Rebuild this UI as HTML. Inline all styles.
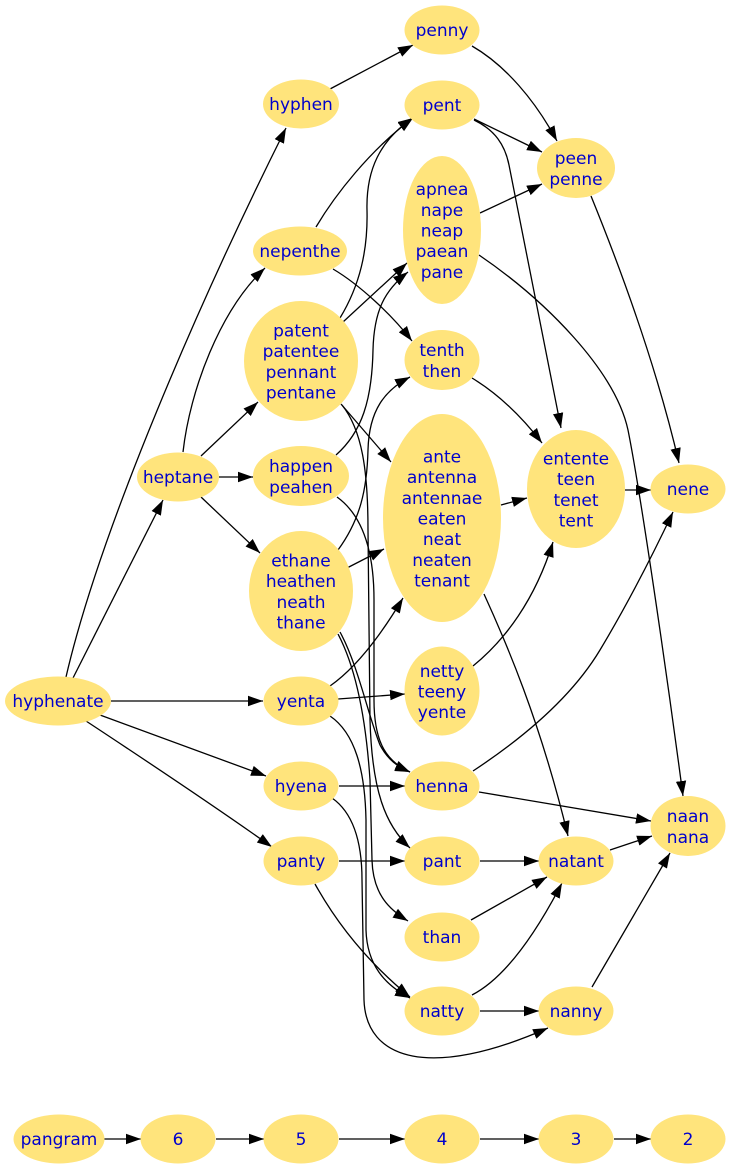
<!DOCTYPE html>
<html><head><meta charset="utf-8"><style>
html,body{margin:0;padding:0;background:#fff;}
svg{display:block;}
text{font-family:"DejaVu Sans","Liberation Sans",sans-serif;font-size:17px;fill:#0000cc;text-anchor:middle;}
.e{fill:none;stroke:#000;stroke-width:1.3;marker-end:url(#ah);}
ellipse{fill:#ffe47c;}
</style></head><body>
<svg width="731" height="1169" viewBox="0 0 731 1169" xmlns="http://www.w3.org/2000/svg">
<defs>
<marker id="ah" markerUnits="userSpaceOnUse" markerWidth="16" markerHeight="11" viewBox="0 0 16 11" refX="15" refY="5.5" orient="auto">
<path d="M0,0.3 L15,5.5 L0,10.7 Z" fill="#000"/>
</marker>
</defs>
<rect width="731" height="1169" fill="#fff"/>

<!-- edges -->
<path class="e" d="M66,677 C100,530 200,300 286,128"/>
<path class="e" d="M73,678 L163,500"/>
<path class="e" d="M111,701 L263,701"/>
<path class="e" d="M100,715 L266,776"/>
<path class="e" d="M86,721 C130,750 220,810 272,847"/>
<path class="e" d="M183,452 C190,390 220,310 265,268"/>
<path class="e" d="M201,456 L258,402"/>
<path class="e" d="M219,477 L253,477"/>
<path class="e" d="M201,497 L260,553"/>
<path class="e" d="M330,89 L413,45"/>
<path class="e" d="M316,227 C335,195 370,150 413,118"/>
<path class="e" d="M333,269 C360,285 392,315 412,341"/>
<path class="e" d="M340,318 C360,285 368,250 367,210 C366,170 380,140 413,118"/>
<path class="e" d="M343,322 L407,263"/>
<path class="e" d="M341,404 L391,462"/>
<path class="e" d="M342,405 C362,430 368,470 368,530 L370,720 C372,790 385,825 410,848"/>
<path class="e" d="M336,455 C362,432 372,400 373,350 C374,310 385,290 408,272"/>
<path class="e" d="M337,497 C362,515 374,550 374,600 L374,700 C374,745 388,762 410,772"/>
<path class="e" d="M338,550 C360,520 367,490 368,450 C369,410 385,390 410,377"/>
<path class="e" d="M345,569 L384,549"/>
<path class="e" d="M340,632 C358,665 368,715 380,745 C388,760 398,767 410,772"/>
<path class="e" d="M338,634 C356,668 366,720 370,780 L372,860 C373,895 390,910 408,921"/>
<path class="e" d="M330,686 C350,672 375,645 403,598"/>
<path class="e" d="M338,699 L405,694"/>
<path class="e" d="M330,716 C355,733 365,770 366,820 L366,930 C367,965 385,985 410,998"/>
<path class="e" d="M339,786 L405,786"/>
<path class="e" d="M332,798 C352,812 362,840 362,880 L364,1000 C366,1060 430,1080 548,1028"/>
<path class="e" d="M339,861 L405,861"/>
<path class="e" d="M315,884 C335,920 365,960 410,997"/>

<path class="e" d="M472,46 C505,65 535,100 557,141"/>
<path class="e" d="M474,119 L542,152"/>
<path class="e" d="M474,120 C495,130 505,145 509,165 L561,428"/>
<path class="e" d="M480,213 L542,184"/>
<path class="e" d="M479,255 C545,300 615,370 628,430 C640,490 665,660 683,796"/>
<path class="e" d="M472,378 C500,395 522,417 542,443"/>
<path class="e" d="M501,505 L527,498"/>
<path class="e" d="M484,594 C505,640 540,720 568,836"/>
<path class="e" d="M473,666 C505,640 535,600 553,542"/>
<path class="e" d="M473,771 C520,740 570,700 600,650 C630,600 655,550 673,512"/>
<path class="e" d="M479,792 L651,821"/>
<path class="e" d="M480,861 L539,861"/>
<path class="e" d="M471,920 L547,877"/>
<path class="e" d="M472,995 C505,978 535,935 562,883"/>
<path class="e" d="M480,1011 L539,1011"/>
<path class="e" d="M591,196 C615,255 655,360 679,463"/>
<path class="e" d="M625,490 L651,490"/>
<path class="e" d="M610,850 L652,836"/>
<path class="e" d="M592,987 L670,853"/>

<path class="e" d="M104,1139 L141,1139"/>
<path class="e" d="M216,1139 L264,1139"/>
<path class="e" d="M339,1139 L405,1139"/>
<path class="e" d="M480,1139 L539,1139"/>
<path class="e" d="M614,1139 L651,1139"/>

<!-- nodes -->
<ellipse cx="58" cy="701" rx="53" ry="24.5"/>
<ellipse cx="178" cy="477" rx="41" ry="24.5"/>
<ellipse cx="301" cy="104" rx="38" ry="24.5"/>
<ellipse cx="300" cy="251" rx="47" ry="24.5"/>
<ellipse cx="301" cy="361" rx="57" ry="60"/>
<ellipse cx="301" cy="476" rx="48" ry="30"/>
<ellipse cx="301" cy="591" rx="52" ry="60"/>
<ellipse cx="301" cy="701" rx="37.5" ry="24.5"/>
<ellipse cx="301" cy="786" rx="37.5" ry="24.5"/>
<ellipse cx="301" cy="861" rx="37.5" ry="24.5"/>
<ellipse cx="442" cy="30" rx="37.5" ry="24.5"/>
<ellipse cx="442" cy="105" rx="37.5" ry="24.5"/>
<ellipse cx="442" cy="230" rx="39" ry="74"/>
<ellipse cx="442" cy="360" rx="37.5" ry="30"/>
<ellipse cx="442" cy="518" rx="59" ry="104"/>
<ellipse cx="442" cy="691" rx="37.5" ry="44.5"/>
<ellipse cx="442" cy="786" rx="37.5" ry="24.5"/>
<ellipse cx="442" cy="861" rx="37.5" ry="24.5"/>
<ellipse cx="442" cy="937" rx="37.5" ry="24.5"/>
<ellipse cx="442" cy="1011" rx="37.5" ry="24.5"/>
<ellipse cx="576" cy="168" rx="39" ry="30"/>
<ellipse cx="576" cy="489" rx="49" ry="59"/>
<ellipse cx="576" cy="861" rx="37.5" ry="24.5"/>
<ellipse cx="576" cy="1011" rx="37.5" ry="24.5"/>
<ellipse cx="688" cy="489" rx="37.5" ry="24.5"/>
<ellipse cx="688" cy="826" rx="37.5" ry="30"/>

<ellipse cx="59" cy="1139" rx="45.5" ry="24.5"/>
<ellipse cx="178" cy="1139" rx="37.5" ry="24.5"/>
<ellipse cx="301" cy="1139" rx="37.5" ry="24.5"/>
<ellipse cx="442" cy="1139" rx="37.5" ry="24.5"/>
<ellipse cx="576" cy="1139" rx="37.5" ry="24.5"/>
<ellipse cx="688" cy="1139" rx="37.5" ry="24.5"/>

<!-- labels -->
<text x="58" y="707">hyphenate</text>
<text x="178" y="483">heptane</text>
<text x="301" y="110">hyphen</text>
<text x="300" y="257">nepenthe</text>
<text x="301" y="336.5">patent</text>
<text x="301" y="357.2">patentee</text>
<text x="301" y="377.9">pennant</text>
<text x="301" y="398.6">pentane</text>
<text x="301" y="472.2">happen</text>
<text x="301" y="492.9">peahen</text>
<text x="301" y="566.5">ethane</text>
<text x="301" y="587.2">heathen</text>
<text x="301" y="607.9">neath</text>
<text x="301" y="628.6">thane</text>
<text x="301" y="707">yenta</text>
<text x="301" y="792">hyena</text>
<text x="301" y="867">panty</text>

<text x="442" y="36">penny</text>
<text x="442" y="111">pent</text>
<text x="442" y="195.1">apnea</text>
<text x="442" y="215.8">nape</text>
<text x="442" y="236.5">neap</text>
<text x="442" y="257.2">paean</text>
<text x="442" y="277.9">pane</text>
<text x="442" y="356.2">tenth</text>
<text x="442" y="376.9">then</text>
<text x="442" y="462.4">ante</text>
<text x="442" y="483.1">antenna</text>
<text x="442" y="503.8">antennae</text>
<text x="442" y="524.5">eaten</text>
<text x="442" y="545.2">neat</text>
<text x="442" y="565.9">neaten</text>
<text x="442" y="586.6">tenant</text>
<text x="442" y="676.8">netty</text>
<text x="442" y="697.5">teeny</text>
<text x="442" y="718.2">yente</text>
<text x="442" y="792">henna</text>
<text x="442" y="867">pant</text>
<text x="442" y="943">than</text>
<text x="442" y="1017">natty</text>

<text x="576" y="164.2">peen</text>
<text x="576" y="184.9">penne</text>
<text x="576" y="464.5">entente</text>
<text x="576" y="485.2">teen</text>
<text x="576" y="505.9">tenet</text>
<text x="576" y="526.6">tent</text>
<text x="576" y="867">natant</text>
<text x="576" y="1017">nanny</text>
<text x="688" y="495">nene</text>
<text x="688" y="822.2">naan</text>
<text x="688" y="842.9">nana</text>

<text x="59" y="1145">pangram</text>
<text x="178" y="1145">6</text>
<text x="301" y="1145">5</text>
<text x="442" y="1145">4</text>
<text x="576" y="1145">3</text>
<text x="688" y="1145">2</text>
</svg>
</body></html>
